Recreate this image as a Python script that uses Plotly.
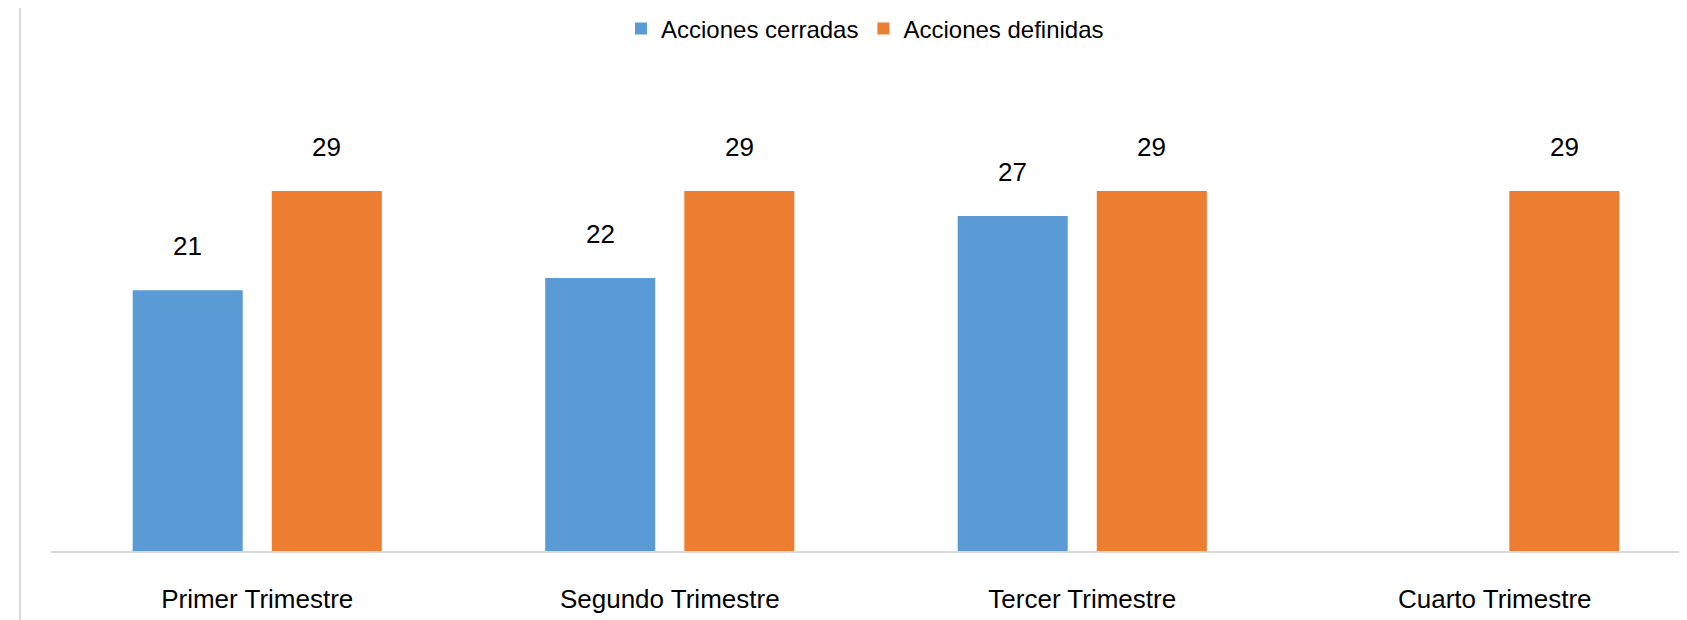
import plotly.graph_objects as go

categories = ["Primer Trimestre", "Segundo Trimestre", "Tercer Trimestre", "Cuarto Trimestre"]
cerradas = [21, 22, 27, None]
definidas = [29, 29, 29, 29]
series_names = ["Acciones cerradas", "Acciones definidas"]
colors = ["#5B9BD5", "#ED7D31"]

FONT = "Liberation Sans, Arial, sans-serif"
W, H = 1687, 620
# page body has an 8px margin; margins below are chosen so the plot lands where the reference has it
ml, mr, mt, mb = 43, 8, 52, 77
bargap = 0.3256
bargroupgap = 0.209

fig = go.Figure()
for name, vals, col in zip(series_names, [cerradas, definidas], colors):
    fig.add_trace(go.Bar(x=categories, y=vals, name=name, marker_color=col,
                         marker_line_width=0))

slot = (1 - bargap) / 2
annotations = []
for i, vals in enumerate([cerradas, definidas]):
    for j, v in enumerate(vals):
        if v is None:
            continue
        annotations.append(dict(x=j + (i - 0.5) * slot, y=v, xref="x", yref="y",
                                text=str(v), showarrow=False, yanchor="bottom",
                                yshift=27, font=dict(family=FONT, size=26, color="#000000")))

fig.update_layout(
    width=W, height=H,
    margin=dict(l=ml, r=mr, t=mt, b=mb, autoexpand=False),
    paper_bgcolor="white", plot_bgcolor="white",
    barmode="group", bargap=bargap, bargroupgap=bargroupgap,
    font=dict(family=FONT, size=26, color="#000000"),
    showlegend=True,
    legend=dict(orientation="h", x=857 / W, xanchor="center", xref="container",
                y=1 - 21 / H, yref="container", yanchor="middle",
                font=dict(family=FONT, size=24, color="#000000"),
                itemwidth=30, traceorder="normal"),
    annotations=annotations,
    xaxis=dict(type="category", range=[-0.5, 3.466], showline=True, automargin=False,
               linecolor="#D9D9D9", linewidth=2, showgrid=False, zeroline=False,
               ticks="", ticklabelstandoff=24,
               tickfont=dict(family=FONT, size=26, color="#000000")),
    yaxis=dict(range=[0, 39.56], visible=False, showgrid=False, zeroline=False,
               automargin=False),
    shapes=[dict(type="line", xref="paper", yref="paper",
                 x0=(12 - ml) / (W - ml - mr), x1=(12 - ml) / (W - ml - mr),
                 y0=-0.3, y1=1.3, line=dict(color="#D9D9D9", width=2))],
)

fig.write_html("out.html")
